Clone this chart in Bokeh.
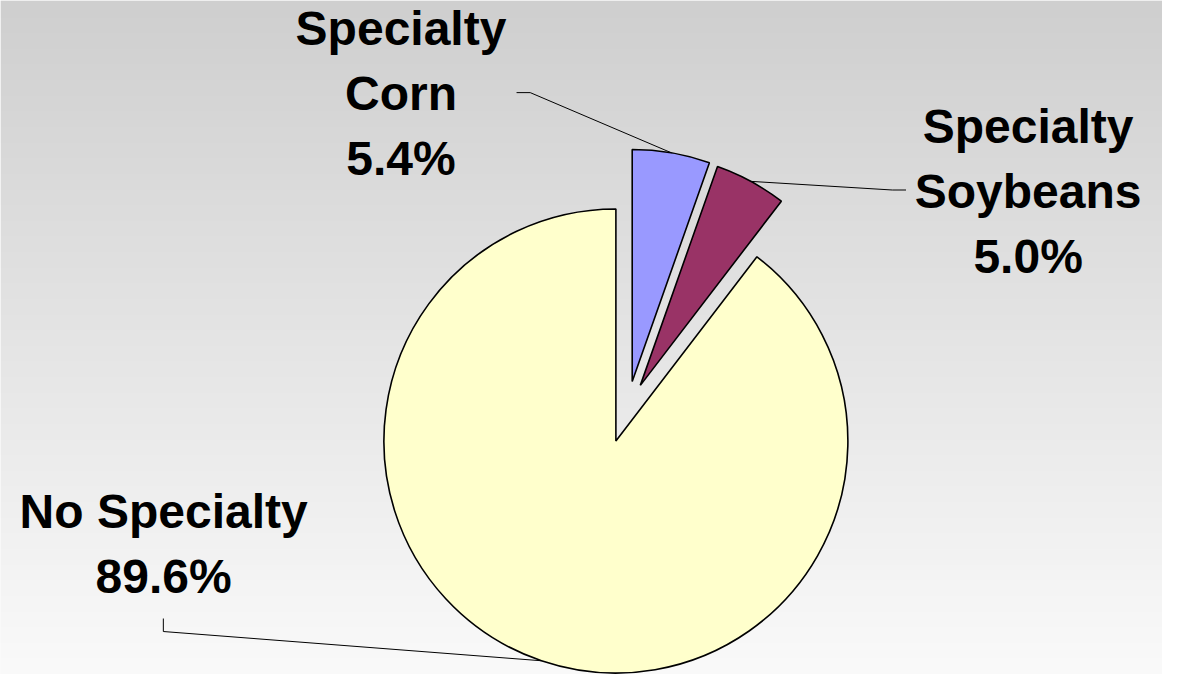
import numpy as np
from bokeh.plotting import figure
from bokeh.models import Range1d
from bokeh.embed import file_html
from bokeh.resources import INLINE
from bokeh.core.properties import value

# ---- data ----
categories = ["Specialty Corn", "Specialty Soybeans", "No Specialty"]
label_lines = [["Specialty", "Corn"], ["Specialty", "Soybeans"], ["No Specialty"]]
shares = [5.4, 5.0, 89.6]
colors = ["#9999FF", "#993366", "#FFFFCC"]

# ---- layout constants (pixel coordinates of the 1178x690 picture) ----
W, H = 1178, 690
FIG_W, FIG_H = 1162, 674
S = FIG_H / H  # scale the whole picture to fit the page
CX, CY, R = 630.0, 451.0, 237.5
EXPLODE = [(16.7, 61.0), (25.0, 57.0), (0.0, 0.0)]
LABEL_X = [410, 1052, 167]
LABEL_Y0 = [29, 129, 523]
LINE_GAP = 66.5
ELBOWS = [[(542.3, 94.3), (528.3, 94.3)],
          [(913.0, 194.0), (927.0, 194.0)],
          [(166.7, 646.0), (166.7, 632.7)]]


def fy(y):
    return H - y


p = figure(width=FIG_W, height=FIG_H,
           x_range=Range1d(0, FIG_W / S), y_range=Range1d(0, H),
           output_backend="svg", toolbar_location=None, min_border=0,
           x_axis_location=None, y_axis_location=None)
p.grid.visible = False
p.outline_line_color = None
p.background_fill_color = "#f8f8f8"
p.border_fill_color = "#f8f8f8"

# background gradient
n = H
g = np.linspace(250, 207, n)
img = np.empty((n, 1), dtype=np.uint32)
view = img.view(dtype=np.uint8).reshape((n, 1, 4))
view[:, 0, 0] = g
view[:, 0, 1] = g
view[:, 0, 2] = g
view[:, 0, 3] = 255
p.image_rgba(image=[img], x=0, y=0, dw=FIG_W / S, dh=H)

# pie slices
a0 = np.pi / 2
for i, (share, col) in enumerate(zip(shares, colors)):
    sweep = share / 100.0 * 2 * np.pi
    a1 = a0 - sweep
    dx, dy = EXPLODE[i]
    x0, y0 = CX + dx, fy(CY - dy)
    p.wedge(x=[x0], y=[y0], radius=R, start_angle=a1, end_angle=a0,
            direction="anticlock", fill_color=col, line_color="black",
            line_width=1.6)
    mid = (a0 + a1) / 2
    ex, ey = x0 + R * np.cos(mid), y0 + R * np.sin(mid)
    xs = [ex] + [pt[0] for pt in ELBOWS[i]]
    ys = [ey] + [fy(pt[1]) for pt in ELBOWS[i]]
    p.line(xs, ys, line_color="black", line_width=1)
    a0 = a1

# labels
tx, ty, tt = [], [], []
for i, lines in enumerate(label_lines):
    all_lines = lines + ["%.1f%%" % shares[i]]
    for j, s in enumerate(all_lines):
        tx.append(LABEL_X[i])
        ty.append(fy(LABEL_Y0[i] + j * LINE_GAP))
        tt.append(s)
p.text(x=tx, y=ty, text=tt, text_font=value("Liberation Sans"),
       text_font_style="bold", text_font_size="48px", text_align="center",
       text_baseline="alphabetic", text_color="black")

open("out.html", "w").write(file_html(p, INLINE))
